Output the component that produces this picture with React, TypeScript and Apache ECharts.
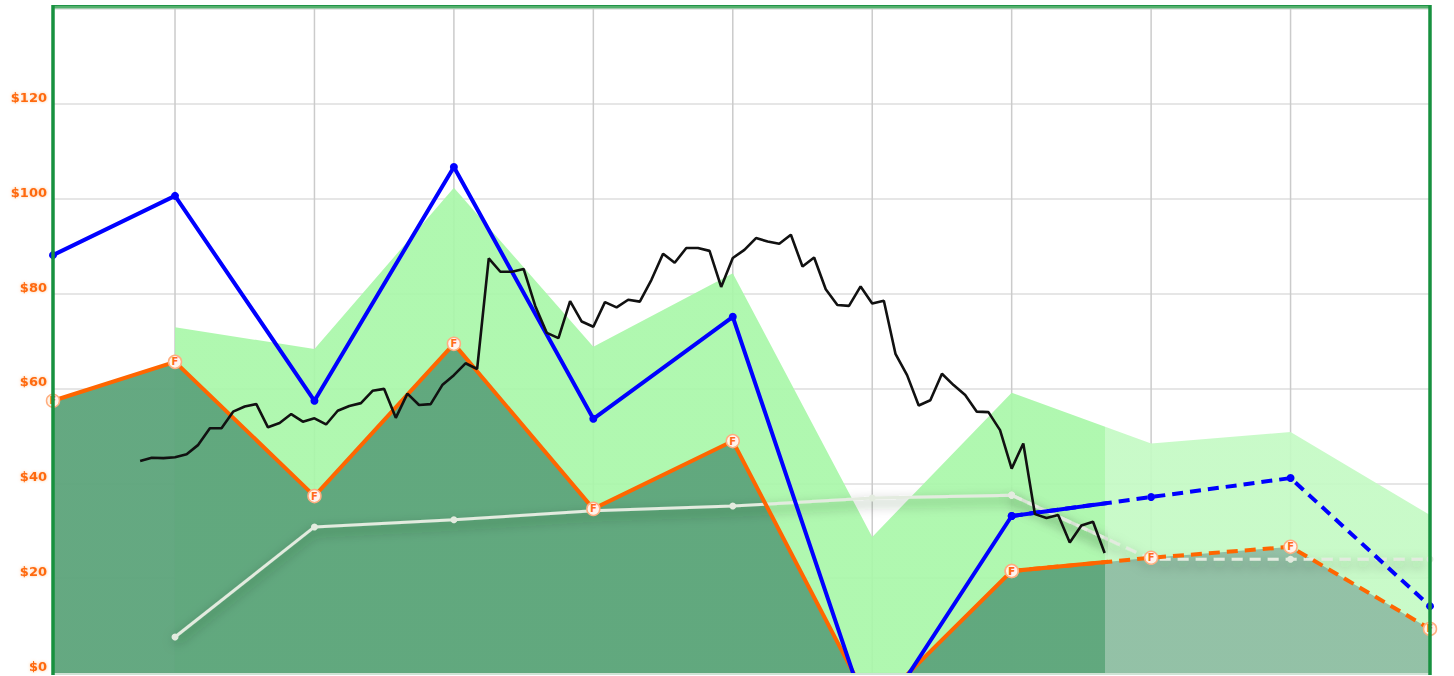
import React, { useEffect, useRef } from "react";
import * as echarts from "echarts";

// ---- axis ranges / tick values ----
const X_MIN = 0.125;
const X_MAX = 10;
const Y_MIN = 0;
const Y_MAX = 140;
const Y_STEP = 20;
const TODAY = 7.67;
const YEAR_GRID = [1, 2, 3, 4, 5, 6, 7, 8, 9];

// ---- annual points (years) ----
const EPS_YEARS = [0.125, 1, 2, 3, 4, 5, 6, 7, 8, 9, 10];
const BLUE = [88.1, 100.6, 57.4, 106.7, 53.6, 75.1, -12, 33.1, 37.1, 41.1, 14.1];
const ORANGE = [57.4, 65.6, 37.3, 69.4, 34.6, 48.9, -7.6, 21.5, 24.3, 26.6, 9.3];

const BAND_YEARS = [1, 2, 3, 4, 5, 6, 7, 8, 9, 10];
const BAND = [72.9, 68.3, 102.3, 68.8, 84.3, 28.7, 59.1, 48.4, 50.8, 33.3];
const GREY = [7.6, 30.8, 32.3, 34.2, 35.2, 36.9, 37.5, 24.0, 24.0, 24.0];

// ---- monthly price ----
const PRICE_START = 0.75;
const PRICE_STEP = 1 / 12;
const PRICE = [
  44.7, 45.4, 45.3, 45.5, 46.1, 48.1, 51.6, 51.6, 55.1, 56.2, 56.7, 51.8,
  52.7, 54.6, 53.0, 53.7, 52.4, 55.3, 56.3, 56.9, 59.5, 59.9, 53.8, 58.9,
  56.5, 56.7, 60.7, 62.8, 65.3, 64.1, 87.4, 84.6, 84.6, 85.2, 77.4, 71.7,
  70.6, 78.4, 74.1, 73.0, 78.2, 77.1, 78.7, 78.3, 82.9, 88.4, 86.5, 89.6,
  89.6, 89.0, 81.4, 87.5, 89.2, 91.7, 91.0, 90.5, 92.4, 85.7, 87.6, 80.9,
  77.6, 77.4, 81.5, 77.9, 78.5, 67.3, 62.8, 56.4, 57.5, 63.1, 60.7, 58.6,
  55.1, 55.0, 51.2, 43.1, 48.4, 33.5, 32.7, 33.3, 27.5, 31.1, 31.9, 25.3,
];

const W = 1454;
const H = 676;
const G_LEFT = 53;
const G_RIGHT = 24;
const G_TOP = 9;
const G_BOTTOM = 3;

const pairs = (xs: number[], ys: number[]) => xs.map((x, i) => [x, ys[i]]);

// horizontal hard-stop gradient: colour a up to fraction f, colour b after
const split = (f: number, a: string, b: string) =>
  new echarts.graphic.LinearGradient(0, 0, 1, 0, [
    { offset: 0, color: a },
    { offset: f, color: a },
    { offset: f, color: b },
    { offset: 1, color: b },
  ]);

export default function App() {
  const ref = useRef<HTMLDivElement>(null);
  useEffect(() => {
    if (!ref.current) return;
    const chart = echarts.init(ref.current, undefined, { renderer: "svg" });

    const gridW = W - G_LEFT - G_RIGHT;
    const solidW = (gridW * (TODAY - X_MIN)) / (X_MAX - X_MIN);

    const blueData = pairs(EPS_YEARS, BLUE);
    const orangeData = pairs(EPS_YEARS, ORANGE);
    const greyData = pairs(BAND_YEARS, GREY);
    const bandData = pairs(BAND_YEARS, BAND);
    const priceData = PRICE.map((v, i) => [PRICE_START + i * PRICE_STEP, v]);

    const lastSolid = (xs: number[]) => {
      let k = 0;
      xs.forEach((x, i) => {
        if (x <= TODAY) k = i;
      });
      return k;
    };
    const blueDash = blueData.slice(lastSolid(EPS_YEARS));
    const orangeDash = orangeData.slice(lastSolid(EPS_YEARS));
    const greyDash = greyData.slice(lastSolid(BAND_YEARS));

    const bandFrac =
      (TODAY - BAND_YEARS[0]) / (BAND_YEARS[BAND_YEARS.length - 1] - BAND_YEARS[0]);
    const darkFrac =
      (TODAY - EPS_YEARS[0]) / (EPS_YEARS[EPS_YEARS.length - 1] - EPS_YEARS[0]);

    const DASH = [11, 7];
    const fLabel = {
      show: true,
      formatter: "F",
      position: "inside",
      color: "#ff6a1a",
      fontSize: 10,
      fontWeight: "bold",
      fontFamily: "DejaVu Sans",
    };
    const fItem = { color: "#fff4ec", borderColor: "#ffae80", borderWidth: 1.5 };
    const greyShadow = {
      shadowColor: "rgba(0,50,20,0.5)",
      shadowBlur: 12,
      shadowOffsetY: 5,
    };

    const option: any = {
      animation: false,
      backgroundColor: "#ffffff",
      grid: [
        { left: G_LEFT, right: G_RIGHT, top: G_TOP, bottom: G_BOTTOM },
        { left: G_LEFT, width: solidW, top: G_TOP, bottom: G_BOTTOM },
      ],
      xAxis: [
        {
          type: "value",
          gridIndex: 0,
          min: X_MIN,
          max: X_MAX,
          axisLine: { show: false },
          axisTick: { show: false },
          axisLabel: { show: false },
          splitLine: { show: false },
        },
        {
          type: "value",
          gridIndex: 1,
          min: X_MIN,
          max: TODAY,
          show: false,
          splitLine: { show: false },
        },
      ],
      yAxis: [
        {
          type: "value",
          gridIndex: 0,
          min: Y_MIN,
          max: Y_MAX,
          interval: Y_STEP,
          axisLine: { show: false },
          axisTick: { show: false },
          axisLabel: {
            color: "#ff6a10",
            fontWeight: "bold",
            fontSize: 13,
            fontFamily: "DejaVu Sans",
            verticalAlign: "bottom",
            margin: 6,
            textShadowColor: "rgba(255,150,60,0.55)",
            textShadowBlur: 3,
            formatter: (v: number) => (v >= Y_MAX ? "" : "$" + v),
          },
          splitLine: { lineStyle: { color: "#e6e6e6", width: 2 } },
        },
        {
          type: "value",
          gridIndex: 1,
          min: Y_MIN,
          max: Y_MAX,
          show: false,
          splitLine: { show: false },
        },
      ],
      series: [
        {
          type: "custom",
          name: "yearLines",
          xAxisIndex: 0,
          yAxisIndex: 0,
          z: 0,
          silent: true,
          data: YEAR_GRID.map((v) => [v, 0]),
          renderItem: (params: any, api: any) => {
            const a = api.coord([api.value(0), Y_MAX]);
            const b = api.coord([api.value(0), Y_MIN]);
            return {
              type: "line",
              shape: { x1: a[0], y1: a[1], x2: b[0], y2: b[1] },
              style: { stroke: "#cbcbcb", lineWidth: 1.5 },
            };
          },
        },
        {
          type: "line",
          name: "band",
          xAxisIndex: 0,
          yAxisIndex: 0,
          z: 1,
          data: bandData,
          symbol: "none",
          lineStyle: { width: 0, opacity: 0 },
          areaStyle: {
            opacity: 1,
            color: split(bandFrac, "rgba(169,247,169,0.92)", "rgba(196,250,196,0.92)"),
          },
        },
        {
          type: "line",
          name: "earningsArea",
          xAxisIndex: 0,
          yAxisIndex: 0,
          z: 2,
          data: orangeData,
          symbol: "none",
          lineStyle: { width: 0, opacity: 0 },
          areaStyle: {
            opacity: 1,
            color: split(darkFrac, "rgba(94,165,124,0.96)", "rgba(145,191,165,0.96)"),
          },
        },
        // grey line
        {
          type: "line",
          name: "greySolid",
          xAxisIndex: 1,
          yAxisIndex: 1,
          z: 5,
          data: greyData,
          symbol: "circle",
          symbolSize: 7,
          itemStyle: { color: "#e3ebdf" },
          lineStyle: { color: "#e3ebdf", width: 3, ...greyShadow },
        },
        {
          type: "line",
          name: "greyDash",
          xAxisIndex: 0,
          yAxisIndex: 0,
          z: 5,
          clip: false,
          data: greyDash,
          symbol: "circle",
          symbolSize: 7,
          itemStyle: { color: "#e3ebdf" },
          lineStyle: { color: "#e3ebdf", width: 3, type: DASH, ...greyShadow },
        },
        // orange line
        {
          type: "line",
          name: "orangeSolid",
          xAxisIndex: 1,
          yAxisIndex: 1,
          z: 6,
          data: orangeData,
          symbol: "circle",
          symbolSize: 13,
          itemStyle: fItem,
          label: fLabel,
          lineStyle: { color: "#ff6600", width: 4 },
        },
        {
          type: "line",
          name: "orangeDash",
          xAxisIndex: 0,
          yAxisIndex: 0,
          z: 6,
          clip: false,
          data: orangeDash,
          symbol: "circle",
          symbolSize: 13,
          itemStyle: fItem,
          label: fLabel,
          lineStyle: { color: "#ff6600", width: 4, type: DASH },
        },
        // blue line
        {
          type: "line",
          name: "blueSolid",
          xAxisIndex: 1,
          yAxisIndex: 1,
          z: 7,
          data: blueData,
          symbol: "circle",
          symbolSize: 8,
          itemStyle: { color: "#0000ff" },
          lineStyle: { color: "#0000ff", width: 4 },
        },
        {
          type: "line",
          name: "blueDash",
          xAxisIndex: 0,
          yAxisIndex: 0,
          z: 7,
          clip: false,
          data: blueDash,
          symbol: "circle",
          symbolSize: 8,
          itemStyle: { color: "#0000ff" },
          lineStyle: { color: "#0000ff", width: 4, type: DASH },
        },
        // price
        {
          type: "line",
          name: "price",
          xAxisIndex: 0,
          yAxisIndex: 0,
          z: 9,
          data: priceData,
          symbol: "none",
          lineStyle: { color: "#111111", width: 2.6 },
        },
        // frame
        {
          type: "custom",
          name: "frame",
          xAxisIndex: 0,
          yAxisIndex: 0,
          z: 20,
          silent: true,
          data: [[X_MIN, Y_MIN]],
          renderItem: (params: any, api: any) => {
            const tl = api.coord([X_MIN, Y_MAX]);
            const br = api.coord([X_MAX, Y_MIN]);
            return {
              type: "group",
              children: [
                {
                  type: "rect",
                  shape: { x: tl[0], y: br[1], width: br[0] - tl[0], height: 4 },
                  style: { fill: "#ffffff" },
                },
                {
                  type: "line",
                  shape: { x1: tl[0], y1: br[1] + 1, x2: br[0], y2: br[1] + 1 },
                  style: { stroke: "#cfe3d5", lineWidth: 2 },
                },
                {
                  type: "line",
                  shape: { x1: tl[0], y1: tl[1] - 2, x2: br[0], y2: tl[1] - 2 },
                  style: { stroke: "#55b06e", lineWidth: 3 },
                },
                {
                  type: "line",
                  shape: { x1: tl[0], y1: tl[1] - 3.5, x2: br[0], y2: tl[1] - 3.5 },
                  style: { stroke: "#1f9447", lineWidth: 1 },
                },
                {
                  type: "line",
                  shape: { x1: tl[0], y1: tl[1] - 4, x2: tl[0], y2: br[1] + 2 },
                  style: { stroke: "#17913f", lineWidth: 3.5 },
                },
                {
                  type: "line",
                  shape: { x1: br[0], y1: tl[1] - 4, x2: br[0], y2: br[1] + 2 },
                  style: { stroke: "#17913f", lineWidth: 3.5 },
                },
              ],
            };
          },
        },
      ],
    };

    chart.setOption(option);
    return () => chart.dispose();
  }, []);

  return (
    <div
      ref={ref}
      style={{ position: "fixed", left: 0, top: 0, width: W, height: H }}
    />
  );
}
